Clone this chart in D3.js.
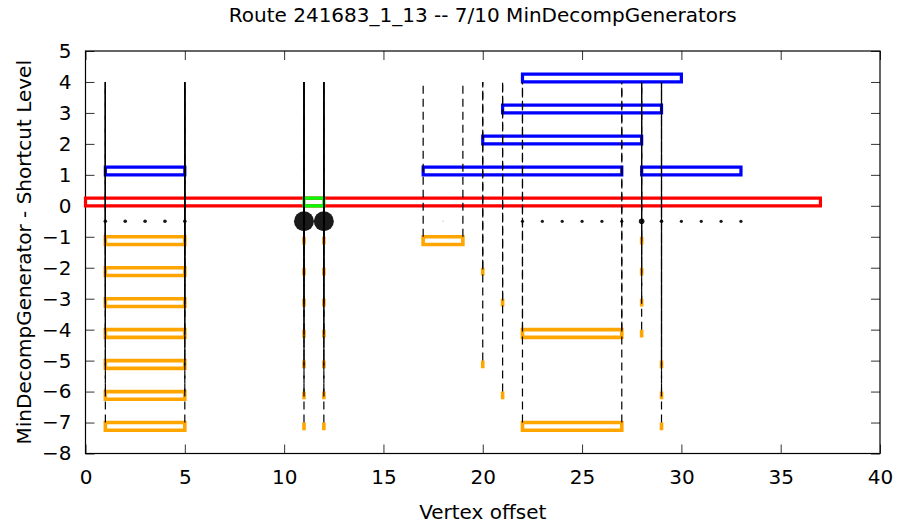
<!DOCTYPE html>
<html lang="en">
<head>
<meta charset="utf-8">
<title>Route 241683_1_13</title>
<style>
  body { margin: 0; background: #fff; }
  text { font-family: "DejaVu Sans", sans-serif; fill: #000; }
</style>
</head>
<body>
<div id="chart"></div>
<script src="https://d3js.org/d3.v7.min.js"></script>
<script>
    // route (level 0) and highlighted part of it
    var route = [{level: 0, from: 0, to: 37}];
    var routeHighlight = [{level: 0, from: 11, to: 12}];

    // shortcuts (blue), level > 0
    var shortcuts = [
        {level: 1, from: 1, to: 5},
        {level: 1, from: 17, to: 27},
        {level: 1, from: 28, to: 33},
        {level: 2, from: 20, to: 28},
        {level: 3, from: 21, to: 29},
        {level: 4, from: 22, to: 30}
    ];

    // generators (orange), level -1 .. -7
    var generators = [
        {level: -1, from: 1, to: 5}, {level: -1, from: 11, to: 11}, {level: -1, from: 12, to: 12}, {level: -1, from: 17, to: 19}, {level: -1, from: 28, to: 28},
        {level: -2, from: 1, to: 5}, {level: -2, from: 11, to: 11}, {level: -2, from: 12, to: 12}, {level: -2, from: 20, to: 20}, {level: -2, from: 28, to: 28},
        {level: -3, from: 1, to: 5}, {level: -3, from: 11, to: 11}, {level: -3, from: 12, to: 12}, {level: -3, from: 21, to: 21}, {level: -3, from: 28, to: 28},
        {level: -4, from: 1, to: 5}, {level: -4, from: 11, to: 11}, {level: -4, from: 12, to: 12}, {level: -4, from: 22, to: 27}, {level: -4, from: 28, to: 28},
        {level: -5, from: 1, to: 5}, {level: -5, from: 11, to: 11}, {level: -5, from: 12, to: 12}, {level: -5, from: 20, to: 20}, {level: -5, from: 29, to: 29},
        {level: -6, from: 1, to: 5}, {level: -6, from: 11, to: 11}, {level: -6, from: 12, to: 12}, {level: -6, from: 21, to: 21}, {level: -6, from: 29, to: 29},
        {level: -7, from: 1, to: 5}, {level: -7, from: 11, to: 11}, {level: -7, from: 12, to: 12}, {level: -7, from: 22, to: 27}, {level: -7, from: 29, to: 29}
    ];

    // vertex markers at level -0.5 (size = radius)
    var markers = [
        {x: 1, size: 1.8}, {x: 2, size: 1.8}, {x: 3, size: 1.8}, {x: 4, size: 1.8}, {x: 5, size: 1.8},
        {x: 11, size: 10}, {x: 12, size: 10},
        {x: 18, size: 0.8},
        {x: 22, size: 1.6}, {x: 23, size: 1.6}, {x: 24, size: 1.6}, {x: 25, size: 1.6}, {x: 26, size: 1.6},
        {x: 27, size: 1.6}, {x: 28, size: 2.8}, {x: 29, size: 1.8}, {x: 30, size: 1.6}, {x: 31, size: 1.6},
        {x: 32, size: 1.6}, {x: 33, size: 1.6}
    ];
    var markerLevel = -0.5;
    var boxHeight = 0.25;
    var topLevel = 4;

    var xTicks = [0, 5, 10, 15, 20, 25, 30, 35, 40];
    var yTicks = [-8, -7, -6, -5, -4, -3, -2, -1, 0, 1, 2, 3, 4, 5];

    var W = 899, H = 527;
    var margin = {left: 85.5, right: 19, top: 51, bottom: 73.5};
    var fontSize = "20px";

    var svg = d3.select("#chart").append("svg")
            .attr("width", W)
            .attr("height", H);

    var x = d3.scaleLinear().domain([0, 40]).range([margin.left, W - margin.right]);
    var y = d3.scaleLinear().domain([-8, 5]).range([H - margin.bottom, margin.top]);

    // title and axis labels
    svg.append("text")
            .attr("x", (x(0) + x(40)) / 2)
            .attr("y", 22)
            .attr("text-anchor", "middle")
            .style("font-size", fontSize)
            .text("Route 241683_1_13 -- 7/10 MinDecompGenerators");

    svg.append("text")
            .attr("x", (x(0) + x(40)) / 2)
            .attr("y", 519)
            .attr("text-anchor", "middle")
            .style("font-size", fontSize)
            .text("Vertex offset");

    svg.append("text")
            .attr("transform", "translate(31," + ((y(-8) + y(5)) / 2) + ") rotate(-90)")
            .attr("text-anchor", "middle")
            .style("font-size", fontSize)
            .text("MinDecompGenerator - Shortcut Level");

    // axes, ticks pointing inward, mirrored on top / right
    var tickLen = 9;
    svg.append("g")
            .attr("transform", "translate(0," + y(-8) + ")")
            .call(d3.axisBottom(x).tickValues(xTicks).tickSize(-tickLen).tickPadding(16));
    svg.append("g")
            .attr("transform", "translate(0," + y(5) + ")")
            .call(d3.axisTop(x).tickValues(xTicks).tickSize(-tickLen).tickFormat(""));
    svg.append("g")
            .attr("transform", "translate(" + x(0) + ",0)")
            .call(d3.axisLeft(y).tickValues(yTicks).tickSize(-tickLen).tickPadding(14));
    svg.append("g")
            .attr("transform", "translate(" + x(40) + ",0)")
            .call(d3.axisRight(y).tickValues(yTicks).tickSize(-tickLen).tickFormat(""));

    svg.selectAll(".domain").remove();
    svg.selectAll(".tick line").attr("stroke", "#333");
    svg.selectAll(".tick text")
            .style("font-family", "DejaVu Sans, sans-serif")
            .style("font-size", fontSize)
            .attr("fill", "#000");

    svg.append("rect")
            .attr("x", x(0))
            .attr("y", y(5))
            .attr("width", x(40) - x(0))
            .attr("height", y(-8) - y(5))
            .attr("fill", "none")
            .attr("stroke", "#000")
            .attr("stroke-width", 1.2);

    // outlined boxes; drawn as paths so zero-width boxes still show
    function boxes(data, color, down, strokeW) {
        svg.append("g").selectAll("path")
                .data(data)
                .enter().append("path")
                .attr("d", function (d) {
                    var x0 = x(d.from), x1 = x(d.to);
                    var y0 = y(d.level), y1 = down ? y(d.level - boxHeight) : y(d.level + boxHeight);
                    return "M" + x0 + "," + y0 + "H" + x1 + "V" + y1 + "H" + x0 + "Z";
                })
                .attr("fill", "none")
                .attr("stroke", color)
                .attr("stroke-linejoin", "miter")
                .attr("stroke-linecap", "square")
                .attr("stroke-width", strokeW);
    }

    boxes(route, "#ff0000", false, 3.2);
    boxes(routeHighlight, "#00ff00", false, 3.2);
    boxes(shortcuts, "#0000ff", false, 3.2);
    boxes(generators, "#ffa500", true, 3.6);

    // markers
    svg.append("g").selectAll("circle")
            .data(markers)
            .enter().append("circle")
            .attr("cx", function (d) { return x(d.x); })
            .attr("cy", y(markerLevel))
            .attr("r", function (d) { return d.size; })
            .attr("fill", function (d) { return d.size < 1 ? "#ccc" : "#1a1a1a"; });

    // dashed drop lines from each generator end up to the top level
    var drops = [];
    generators.forEach(function (g) {
        drops.push({x: g.from, level: g.level});
        if (g.to !== g.from) drops.push({x: g.to, level: g.level});
    });

    svg.append("g").selectAll("line")
            .data(drops)
            .enter().append("line")
            .attr("x1", function (d) { return x(d.x); })
            .attr("x2", function (d) { return x(d.x); })
            .attr("y1", function (d) { return y(d.level); })
            .attr("y2", y(topLevel))
            .attr("stroke", "#000")
            .attr("stroke-width", 1.2)
            .attr("stroke-dasharray", "8,5");
</script>
</body>
</html>
